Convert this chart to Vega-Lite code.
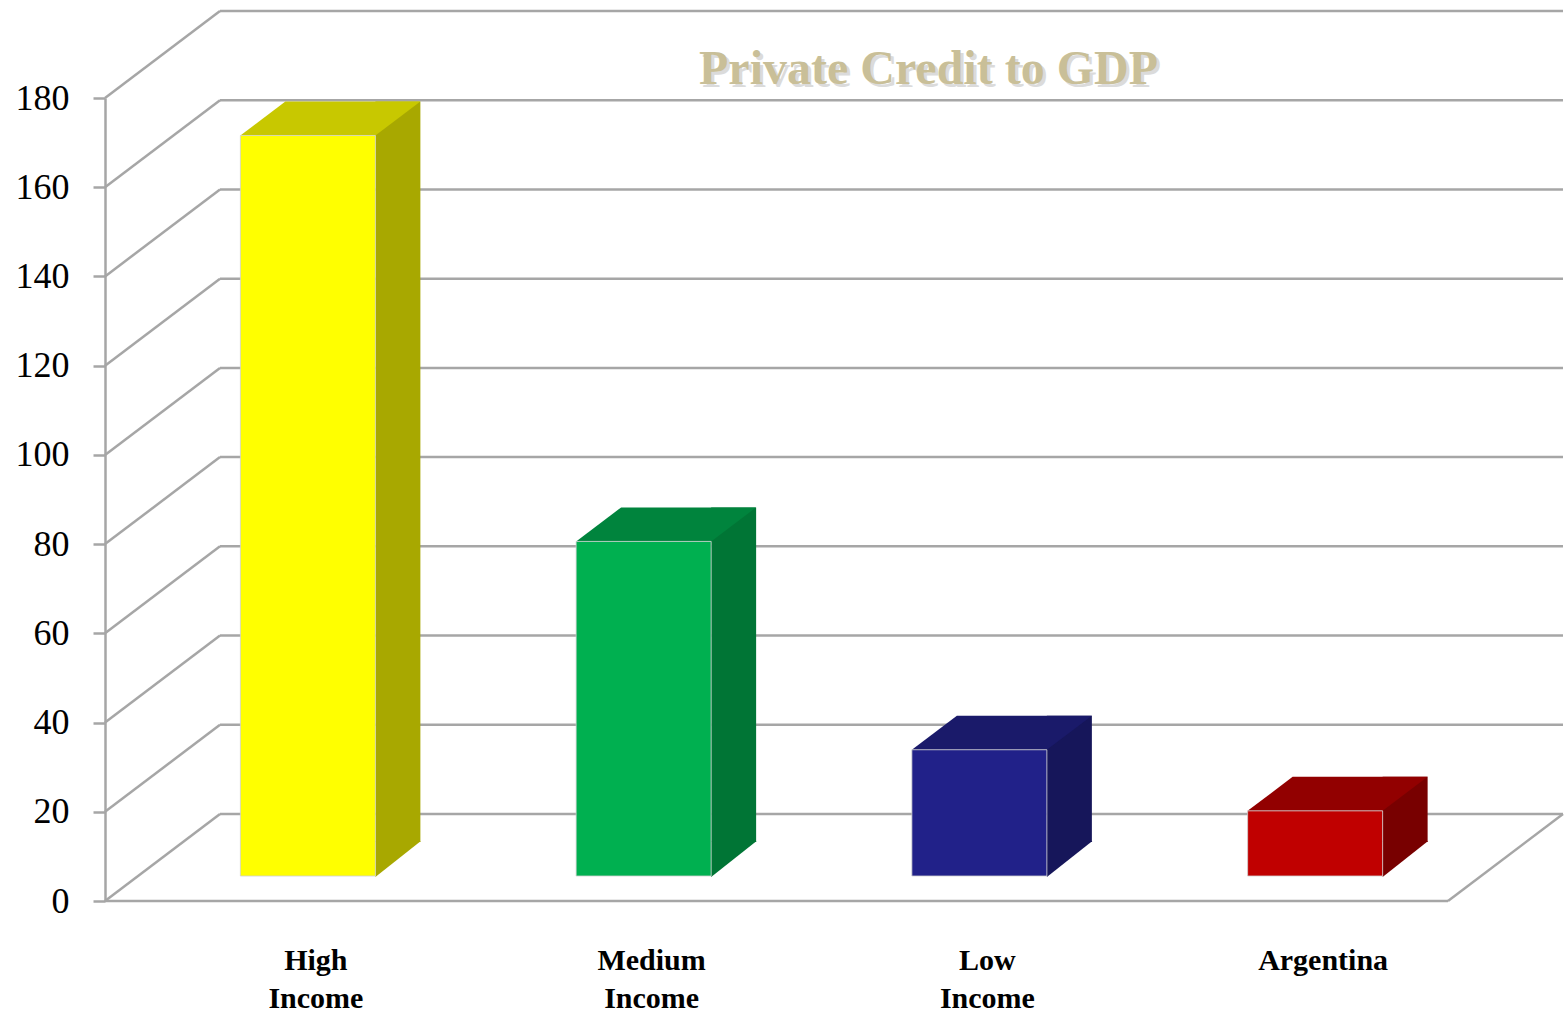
{
  "$schema": "https://vega.github.io/schema/vega-lite/v6.json",
  "width": 1343,
  "height": 803,
  "autosize": {"type": "none"},
  "padding": {"left": 105, "top": 98, "right": 116, "bottom": 111},
  "background": "white",
  "config": {
    "view": {"stroke": null},
    "axisX": {"domain": false, "ticks": false, "grid": false, "labelFont": "Liberation Serif", "labelFontSize": 30, "labelFontWeight": "bold", "labelColor": "black", "labelOffset": 43, "labelPadding": 68, "labelBaseline": "alphabetic", "labelLineHeight": 38, "labelAngle": 0},
    "axisY": {"domain": true, "domainColor": "#a6a6a6", "domainWidth": 2.5, "ticks": true, "tickColor": "#a6a6a6", "tickWidth": 2.5, "tickSize": 12, "grid": false, "labelFont": "Liberation Serif", "labelFontSize": 36, "labelColor": "black", "labelPadding": 24, "tickCount": 9}
  },
  "datasets": {
    "bars": [
      {"category": "High Income", "value": 166},
      {"category": "Medium Income", "value": 75},
      {"category": "Low Income", "value": 28.3},
      {"category": "Argentina", "value": 14.6}
    ],
    "grid": [{"v": 0}, {"v": 20}, {"v": 40}, {"v": 60}, {"v": 80}, {"v": 100}, {"v": 120}, {"v": 140}, {"v": 160}, {"v": 180}]
  },
  "layer": [
    {
      "data": {"name": "grid"},
      "mark": {"type": "rule", "color": "#a6a6a6", "strokeWidth": 2.5, "xOffset": 115, "x2Offset": 115, "yOffset": -87},
      "encoding": {"x": {"value": 0}, "x2": {"value": 1343}, "y": {"field": "v", "type": "quantitative", "scale": {"domain": [0, 180], "nice": false}, "title": null}}
    },
    {
      "data": {"name": "grid"},
      "mark": {"type": "rule", "color": "#a6a6a6", "strokeWidth": 2.5, "x2Offset": 115, "y2Offset": -87},
      "encoding": {"x": {"value": 0}, "x2": {"value": 0}, "y": {"field": "v", "type": "quantitative", "title": null}, "y2": {"field": "v"}}
    },
    {
      "data": {"values": [{}]},
      "mark": {"type": "rule", "color": "#a6a6a6", "strokeWidth": 2.5},
      "encoding": {"y": {"datum": 0, "type": "quantitative", "title": null}}
    },
    {
      "data": {"values": [{}]},
      "mark": {"type": "rule", "color": "#a6a6a6", "strokeWidth": 2.5, "x2Offset": 115, "y2Offset": -87},
      "encoding": {"x": {"value": 1343}, "x2": {"value": 1343}, "y": {"datum": 0, "type": "quantitative", "title": null}, "y2": {"datum": 0}}
    },
    {
      "data": {"name": "bars"},
      "mark": {"type": "bar", "width": 45, "xOffset": 125, "yOffset": -59, "y2Offset": -59},
      "encoding": {
        "x": {"field": "category", "type": "nominal", "title": null, "scale": {"type": "band", "domain": ["High Income", "Medium Income", "Low Income", "Argentina"], "paddingInner": 0, "paddingOuter": 0}, "axis": {"labelExpr": "split(datum.label, ' ')"}},
        "y": {"field": "value", "type": "quantitative", "title": null},
        "fill": {"field": "category", "type": "nominal", "legend": null, "scale": {"domain": ["High Income", "Medium Income", "Low Income", "Argentina"], "range": ["#a8a800", "#007535", "#16165a", "#780000"]}}
      }
    },
    {
      "data": {"name": "bars"},
      "mark": {"type": "point", "shape": "M102.5,-24L148,-60L102.5,-60Z", "size": 4, "filled": true, "opacity": 1, "strokeWidth": 0},
      "encoding": {
        "x": {"field": "category", "type": "nominal", "title": null},
        "y": {"datum": 0, "type": "quantitative", "title": null},
        "fill": {"field": "category", "type": "nominal", "legend": null, "scale": {"domain": ["High Income", "Medium Income", "Low Income", "Argentina"], "range": ["#a8a800", "#007535", "#16165a", "#780000"]}}
      }
    },
    {
      "data": {"name": "bars"},
      "mark": {"type": "point", "shape": "M-32.5,-25L102.5,-25L147.5,-59L12.5,-59Z", "size": 4, "filled": true, "opacity": 1, "strokeWidth": 0},
      "encoding": {
        "x": {"field": "category", "type": "nominal", "title": null},
        "y": {"field": "value", "type": "quantitative", "title": null},
        "fill": {"field": "category", "type": "nominal", "legend": null, "scale": {"domain": ["High Income", "Medium Income", "Low Income", "Argentina"], "range": ["#c8c800", "#00843d", "#1a1a6a", "#920000"]}}
      }
    },
    {
      "data": {"name": "bars"},
      "mark": {"type": "bar", "width": 135, "xOffset": 35, "yOffset": -25, "y2Offset": -25, "stroke": "#d0d0d0", "strokeWidth": 0.8},
      "encoding": {
        "x": {"field": "category", "type": "nominal", "title": null},
        "y": {"field": "value", "type": "quantitative", "title": null},
        "fill": {"field": "category", "type": "nominal", "legend": null, "scale": {"domain": ["High Income", "Medium Income", "Low Income", "Argentina"], "range": ["#ffff00", "#00b050", "#212189", "#c00000"]}}
      }
    },
    {
      "data": {"values": [{}]},
      "mark": {"type": "text", "text": "Private Credit to GDP", "font": "Liberation Serif", "fontSize": 48, "fontWeight": "bold", "color": "#9a9a9a", "opacity": 0.35, "align": "center", "baseline": "alphabetic", "dx": 155, "dy": -11},
      "encoding": {"x": {"datum": "Medium Income", "bandPosition": 1}, "y": {"datum": 180, "type": "quantitative"}}
    },
    {
      "data": {"values": [{}]},
      "mark": {"type": "text", "text": "Private Credit to GDP", "font": "Liberation Serif", "fontSize": 48, "fontWeight": "bold", "color": "#c9bf98", "align": "center", "baseline": "alphabetic", "dx": 152, "dy": -14},
      "encoding": {"x": {"datum": "Medium Income", "bandPosition": 1}, "y": {"datum": 180, "type": "quantitative"}}
    }
  ],
  "resolve": {"scale": {"fill": "independent"}}
}
